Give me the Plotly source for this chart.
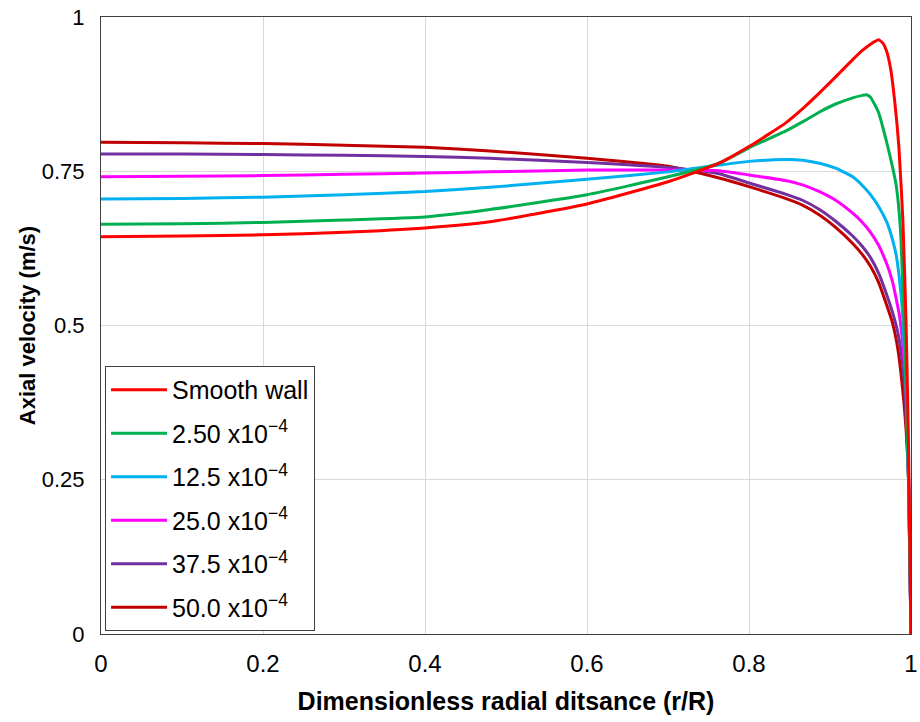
import plotly.graph_objects as go

# ---- data ----
names = ["Smooth wall", "2.50 x10<sup>−4</sup>", "12.5 x10<sup>−4</sup>",
         "25.0 x10<sup>−4</sup>", "37.5 x10<sup>−4</sup>", "50.0 x10<sup>−4</sup>"]
colors = ["#FF0000", "#00B050", "#00B0F0", "#FF00FF", "#7030A0", "#C00000"]

x_smooth = [0, 0.1, 0.2, 0.3, 0.4, 0.48, 0.6, 0.7, 0.763, 0.8, 0.845, 0.866, 0.887, 0.907, 0.928, 0.94,
            0.95, 0.955, 0.96, 0.965, 0.97, 0.975, 0.98, 0.985, 0.99, 0.994, 0.997, 1.0]
y_smooth = [0.644, 0.645, 0.647, 0.651, 0.658, 0.668, 0.697, 0.733, 0.763, 0.790, 0.828, 0.851, 0.877, 0.903, 0.931, 0.946,
            0.956, 0.960, 0.963, 0.958, 0.944, 0.915, 0.862, 0.790, 0.670, 0.50, 0.30, 0.0]

x_250 = [0, 0.1, 0.2, 0.3, 0.4, 0.48, 0.6, 0.7, 0.763, 0.8, 0.845, 0.866, 0.887, 0.907, 0.928, 0.94,
         0.945, 0.95, 0.96, 0.97, 0.977, 0.982, 0.987, 0.991, 0.995, 0.998, 1.0]
y_250 = [0.664, 0.665, 0.667, 0.671, 0.676, 0.688, 0.712, 0.741, 0.763, 0.788, 0.815, 0.830, 0.846, 0.859, 0.869, 0.873,
         0.874, 0.870, 0.845, 0.797, 0.758, 0.725, 0.655, 0.52, 0.35, 0.18, 0.0]

x_125 = [0, 0.1, 0.2, 0.3, 0.4, 0.48, 0.6, 0.7, 0.763, 0.8, 0.845, 0.866, 0.887, 0.907, 0.928, 0.94,
         0.95, 0.96, 0.97, 0.977, 0.982, 0.988, 0.992, 0.995, 0.997, 1.0]
y_125 = [0.705, 0.706, 0.708, 0.712, 0.717, 0.724, 0.737, 0.749, 0.760, 0.766, 0.769, 0.768, 0.763, 0.755, 0.741, 0.727,
         0.712, 0.693, 0.668, 0.640, 0.612, 0.545, 0.46, 0.36, 0.25, 0.0]

x_250b = [0, 0.1, 0.2, 0.3, 0.4, 0.48, 0.6, 0.7, 0.763, 0.8, 0.845, 0.866, 0.887, 0.907, 0.928, 0.94,
          0.95, 0.96, 0.97, 0.977, 0.986, 0.992, 0.995, 0.997, 1.0]
y_250b = [0.741, 0.742, 0.743, 0.745, 0.747, 0.749, 0.752, 0.752, 0.751, 0.744, 0.735, 0.728, 0.717, 0.703, 0.682, 0.667,
          0.651, 0.630, 0.600, 0.572, 0.514, 0.435, 0.36, 0.25, 0.0]

x_375 = [0, 0.1, 0.2, 0.3, 0.4, 0.48, 0.6, 0.7, 0.763, 0.8, 0.845, 0.866, 0.887, 0.907, 0.928, 0.94,
         0.95, 0.96, 0.97, 0.977, 0.984, 0.99, 0.993, 0.997, 1.0]
y_375 = [0.778, 0.778, 0.777, 0.776, 0.774, 0.771, 0.764, 0.756, 0.746, 0.731, 0.713, 0.703, 0.688, 0.669, 0.645, 0.628,
         0.610, 0.585, 0.550, 0.522, 0.487, 0.433, 0.38, 0.25, 0.0]

x_500 = [0, 0.1, 0.2, 0.3, 0.4, 0.48, 0.6, 0.7, 0.763, 0.8, 0.845, 0.866, 0.887, 0.907, 0.928, 0.94,
         0.95, 0.96, 0.97, 0.977, 0.984, 0.991, 0.994, 0.997, 1.0]
y_500 = [0.797, 0.796, 0.795, 0.792, 0.789, 0.783, 0.771, 0.758, 0.739, 0.725, 0.706, 0.695, 0.679, 0.659, 0.633, 0.615,
         0.596, 0.570, 0.533, 0.505, 0.460, 0.379, 0.33, 0.25, 0.0]

xs = [x_smooth, x_250, x_125, x_250b, x_375, x_500]
ys = [y_smooth, y_250, y_125, y_250b, y_375, y_500]

x_ticks = [0, 0.2, 0.4, 0.6, 0.8, 1]
x_ticklabels = ["0", "0.2", "0.4", "0.6", "0.8", "1"]
y_ticks = [0, 0.25, 0.5, 0.75, 1]
y_ticklabels = ["0", "0.25", "0.5", "0.75", "1"]

fig = go.Figure()
order = [5, 4, 3, 2, 1, 0]  # draw smooth wall last (on top)
for i in order:
    fig.add_trace(go.Scatter(x=xs[i], y=ys[i], mode="lines", name=names[i],
                             line=dict(color=colors[i], width=3, shape="spline", smoothing=0.5),
                             legendgroup=str(i), legendrank=i))

font_family = "Liberation Sans, Arial, sans-serif"
fig.update_layout(
    width=920, height=722,
    margin=dict(l=101, r=9, t=17, b=88, autoexpand=False),
    paper_bgcolor="white", plot_bgcolor="white",
    font=dict(family=font_family, color="#000000"),
    showlegend=True,
    legend=dict(x=0.005, y=0.005, xanchor="left", yanchor="bottom",
                bordercolor="#404040", borderwidth=1, bgcolor="white",
                font=dict(size=25, family=font_family, color="#000"),
                tracegroupgap=8, itemwidth=56),
    xaxis=dict(range=[0, 1], tickvals=x_ticks, ticktext=x_ticklabels,
               showgrid=True, gridcolor="#D9D9D9", gridwidth=1,
               showline=True, linecolor="#404040", linewidth=1, mirror=True,
               ticks="", zeroline=False, automargin=False, ticklabelstandoff=8,
               tickfont=dict(size=24),
               title=dict(text="<b>Dimensionless radial ditsance (r/R)</b>",
                          font=dict(size=25), standoff=16)),
    yaxis=dict(range=[0, 1], tickvals=y_ticks, ticktext=y_ticklabels,
               showgrid=True, gridcolor="#D9D9D9", gridwidth=1,
               showline=True, linecolor="#404040", linewidth=1, mirror=True,
               ticks="", zeroline=False, automargin=False, ticklabelstandoff=11,
               tickfont=dict(size=22),
               title=dict(text="<b>Axial velocity (m/s)</b>", font=dict(size=22), standoff=0)),
)

fig.write_html("out.html")
